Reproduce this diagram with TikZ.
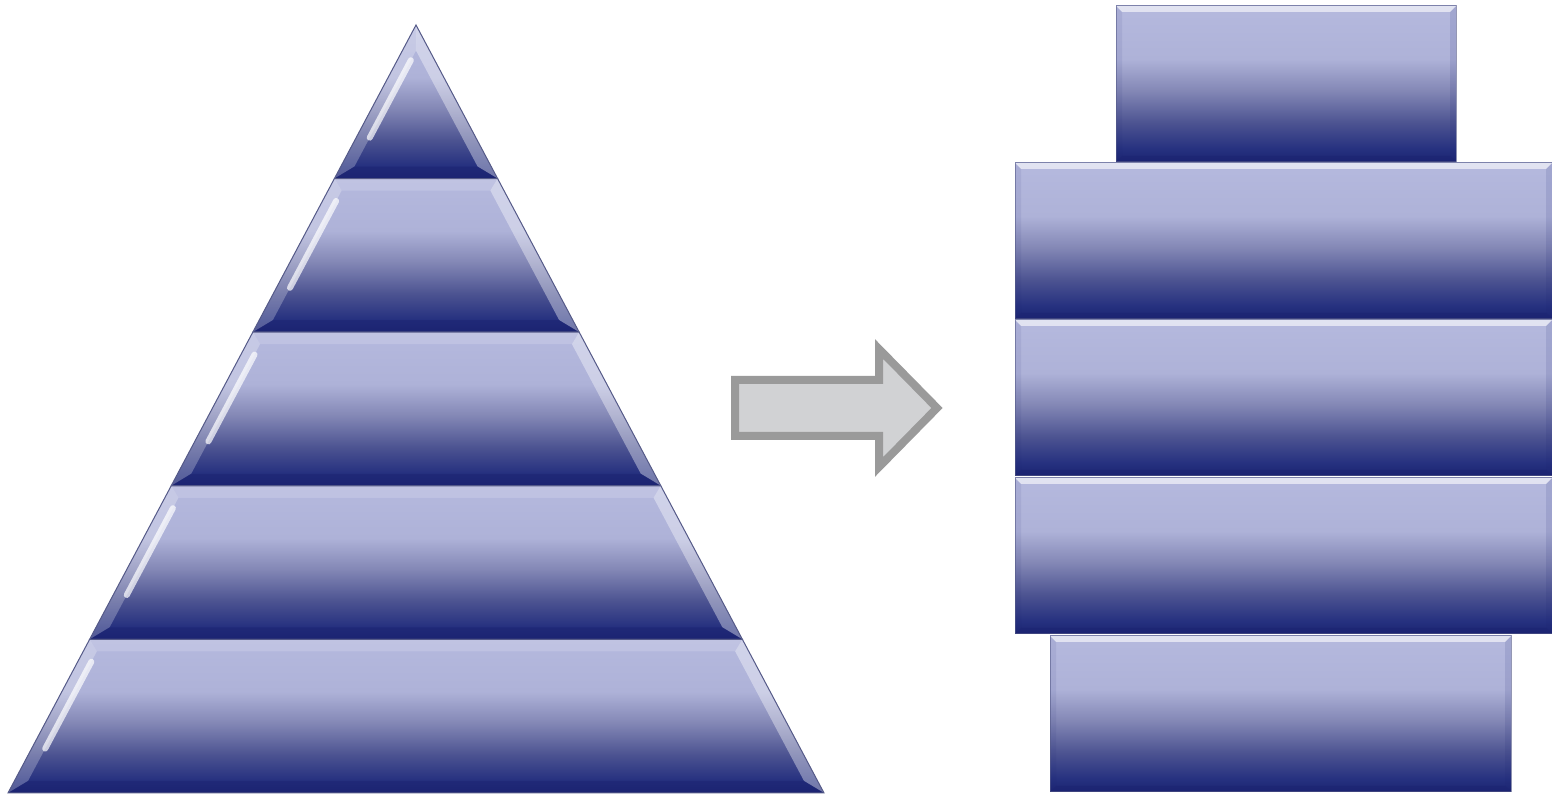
\documentclass[tikz,border=0pt]{standalone}
\usetikzlibrary{calc}
\definecolor{c0}{HTML}{1C2472}
\definecolor{c1}{HTML}{25307F}
\definecolor{c2}{HTML}{4C5391}
\definecolor{c3}{HTML}{8488B6}
\definecolor{c4}{HTML}{AEB2D8}
\definecolor{c5}{HTML}{B5B9DE}
\definecolor{arrowfill}{HTML}{D1D2D4}
\definecolor{arrowline}{HTML}{9A9A9A}
\definecolor{edgeline}{HTML}{555A88}
\pgfdeclareverticalshading{layershade}{100bp}{color(0bp)=(c0); color(25bp)=(c0); color(29bp)=(c1); color(37.5bp)=(c2); color(48bp)=(c3); color(58bp)=(c4); color(75bp)=(c5); color(100bp)=(c5)}
\tikzset{
  layerfill/.style={shading=layershade},
  bevellight/.style={fill=white, fill opacity=0.25, draw=none},
  bevelright/.style={fill=white, fill opacity=0.38, draw=none},
  beveltop/.style={fill=white, fill opacity=0.15, draw=none},
  boxtop/.style={fill=white, fill opacity=0.6, draw=none},
  beveldark/.style={fill=c0, fill opacity=0.55, draw=none},
  bevelshade/.style={fill=c0, fill opacity=0.12, draw=none},
  boxleft/.style={fill=c0, fill opacity=0.08, draw=none},
  edge/.style={draw=edgeline, line width=0.5},
  gloss/.style={draw=white, line width=3, opacity=0.7, line cap=round},
  arrowshape/.style={fill=arrowfill, draw=arrowline, line width=4, line join=miter}
}
\newcommand{\flatbox}[4]{% x1 y1 x2 y2 in image coordinates (y down)
  \coordinate (A) at (#1,{796-#2});
  \coordinate (B) at (#3,{796-#2});
  \coordinate (C) at (#3,{796-#4});
  \coordinate (D) at (#1,{796-#4});
  \coordinate (a) at ({#1+6},{796-#2-6});
  \coordinate (b) at ({#3-6},{796-#2-6});
  \coordinate (c) at ({#3-6},{796-#4+6});
  \coordinate (d) at ({#1+6},{796-#4+6});
  \shade[layerfill] (A) -- (B) -- (C) -- (D) -- cycle;
  \fill[boxtop] (A) -- (B) -- (b) -- (a) -- cycle;
  \fill[boxleft] (A) -- (a) -- (d) -- (D) -- cycle;
  \fill[bevelshade] (B) -- (b) -- (c) -- (C) -- cycle;
  \fill[beveldark] (D) -- (d) -- (c) -- (C) -- cycle;
  \draw[edge, draw opacity=0.6] (A) -- (B) -- (C) -- (D) -- cycle;
}
\begin{document}
\begin{tikzpicture}[x=0.5pt,y=0.5pt]
\useasboundingbox (0,0) rectangle (1552,796);
% pyramid
\foreach \i in {0,...,4}{
  \pgfmathsetmacro\pyTop{25+153.6*\i}
  \pgfmathsetmacro\pyBot{\pyTop+153.6}
  \pgfmathsetmacro\pwTop{(\pyTop-25)*0.53125}
  \pgfmathsetmacro\pwBot{(\pyBot-25)*0.53125}
  \pgfmathsetmacro\pyInTop{max(\pyTop+12,51)}
  \pgfmathsetmacro\pyInBot{\pyBot-12}
  \pgfmathsetmacro\pwInTop{max((\pyInTop-25)*0.53125-13.6,0)}
  \pgfmathsetmacro\pwInBot{(\pyInBot-25)*0.53125-13.6}
  \coordinate (OTL) at ({416-\pwTop},{796-\pyTop});
  \coordinate (OTR) at ({416+\pwTop},{796-\pyTop});
  \coordinate (OBL) at ({416-\pwBot},{796-\pyBot});
  \coordinate (OBR) at ({416+\pwBot},{796-\pyBot});
  \coordinate (ITL) at ({416-\pwInTop},{796-\pyInTop});
  \coordinate (ITR) at ({416+\pwInTop},{796-\pyInTop});
  \coordinate (IBL) at ({416-\pwInBot},{796-\pyInBot});
  \coordinate (IBR) at ({416+\pwInBot},{796-\pyInBot});
  \shade[layerfill] (OTL) -- (OTR) -- (OBR) -- (OBL) -- cycle;
  \fill[beveltop] (OTL) -- (OTR) -- (ITR) -- (ITL) -- cycle;
  \fill[bevellight] (OTL) -- (ITL) -- (IBL) -- (OBL) -- cycle;
  \fill[bevelright] (OTR) -- (ITR) -- (IBR) -- (OBR) -- cycle;
  \fill[beveldark] (OBL) -- (OBR) -- (IBR) -- (IBL) -- cycle;
  \draw[gloss] ($(ITL)!0.08!(IBL)$) -- ($(ITL)!0.75!(IBL)$);
  \draw[edge] (OTL) -- (OTR) -- (OBR) -- (OBL) -- cycle;
}
% arrow
\draw[arrowshape] (735,416) -- (879,416) -- (879,447) -- (937,388) -- (879,329) -- (879,360) -- (735,360) -- cycle;
% stacked boxes
\flatbox{1116}{6}{1456}{162}
\flatbox{1015}{163}{1552}{319}
\flatbox{1015}{320}{1552}{476}
\flatbox{1015}{478}{1552}{634}
\flatbox{1050}{636}{1511}{792}
\end{tikzpicture}
\end{document}
